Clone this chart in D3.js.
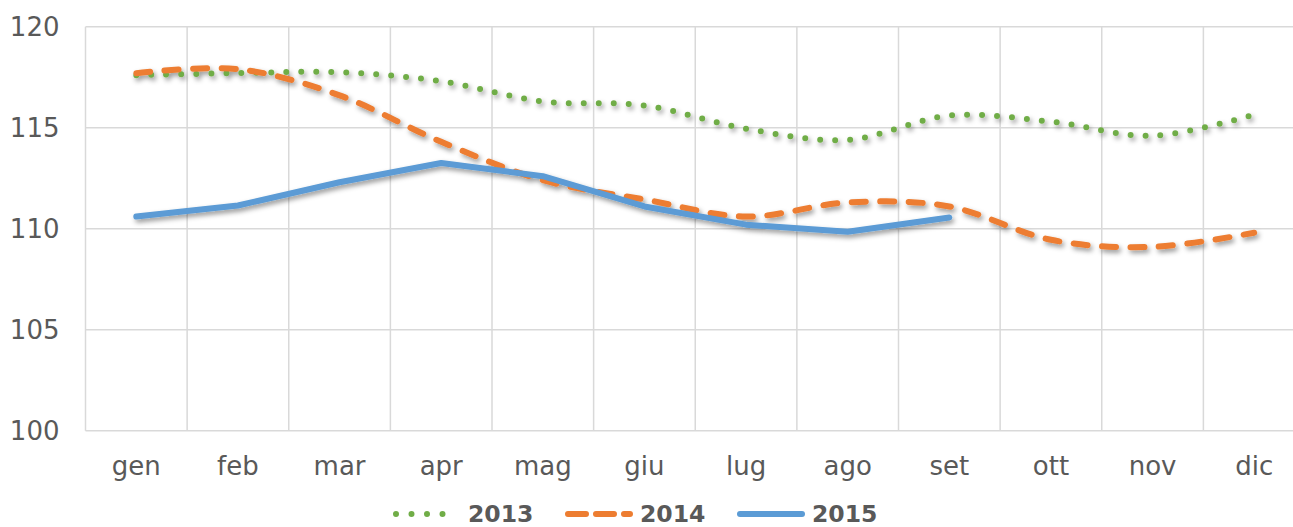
<!DOCTYPE html>
<html>
<head>
<meta charset="utf-8">
<script src="https://cdn.jsdelivr.net/npm/d3@7/dist/d3.min.js"></script>
<style>
  html, body { margin: 0; padding: 0; background: #fff; }
  svg { display: block; font-family: "DejaVu Sans", Verdana, sans-serif; }
</style>
</head>
<body>
<script>
const months = ["gen", "feb", "mar", "apr", "mag", "giu", "lug", "ago", "set", "ott", "nov", "dic"];
const s2013 = [117.6, 117.7, 117.75, 117.3, 116.3, 116.1, 114.95, 114.4, 115.6, 115.3, 114.6, 115.65];
const s2014 = [117.7, 117.9, 116.6, 114.3, 112.4, 111.45, 110.6, 111.3, 111.1, 109.45, 109.1, 109.8];
const s2015 = [110.6, 111.15, 112.3, 113.25, 112.6, 111.1, 110.2, 109.85, 110.55];
const yTicks = [100, 105, 110, 115, 120];
const seriesNames = ["2013", "2014", "2015"];

(function () {
const W = 1293, H = 527;
const pLeft = 85.5, pRight = 1305, pTop = 26.7, pBottom = 430.7;

const svg = d3.select("body").append("svg").attr("width", W).attr("height", H);

const defs = svg.append("defs");
const f = defs.append("filter").attr("id", "shadow")
  .attr("x", "-5%").attr("y", "-20%").attr("width", "110%").attr("height", "140%");
f.append("feDropShadow").attr("dx", 2).attr("dy", 3).attr("stdDeviation", 2.5)
  .attr("flood-color", "#000").attr("flood-opacity", 0.4);

const x = d3.scaleBand().domain(months).range([pLeft, pRight]).padding(0);
const y = d3.scaleLinear().domain([100, 120]).range([pBottom, pTop]);
const cx = m => x(m) + x.bandwidth() / 2;

const grid = "#d9d9d9";
svg.append("g").selectAll("line").data(yTicks).join("line")
  .attr("x1", pLeft).attr("x2", pRight)
  .attr("y1", d => y(d)).attr("y2", d => y(d))
  .attr("stroke", grid).attr("stroke-width", 1.5);
svg.append("g").selectAll("line").data(months).join("line")
  .attr("x1", d => x(d)).attr("x2", d => x(d))
  .attr("y1", pTop).attr("y2", pBottom)
  .attr("stroke", grid).attr("stroke-width", 1.5);

const yAxis = svg.append("g").attr("transform", `translate(${pLeft},0)`)
  .call(d3.axisLeft(y).tickValues(yTicks).tickSize(0).tickPadding(26));
yAxis.select(".domain").remove();
yAxis.selectAll("text").attr("fill", "#595959").style("font-size", "26px")
  .style("font-family", "DejaVu Sans, Verdana, sans-serif");

const xAxis = svg.append("g").attr("transform", `translate(0,${pBottom})`)
  .call(d3.axisBottom(x).tickSize(0).tickPadding(26));
xAxis.select(".domain").remove();
xAxis.selectAll("text").attr("fill", "#595959").style("font-size", "26px")
  .style("font-family", "DejaVu Sans, Verdana, sans-serif");

const styles = {
  "2013": { color: "#70AD47", width: 6, dash: "0 15", cap: "round", curve: d3.curveCardinal.tension(0) },
  "2014": { color: "#ED7D31", width: 6, dash: "14 14.5", cap: "round", curve: d3.curveCardinal.tension(0) },
  "2015": { color: "#5B9BD5", width: 6, dash: null, cap: "round", curve: d3.curveLinear }
};
const seriesData = { "2013": s2013, "2014": s2014, "2015": s2015 };

const plot = svg.append("g").attr("filter", "url(#shadow)");
seriesNames.forEach(name => {
  const st = styles[name];
  const vals = seriesData[name];
  const line = d3.line().x((d, i) => cx(months[i])).y(d => y(d)).curve(st.curve);
  plot.append("path")
    .attr("d", line(vals))
    .attr("fill", "none")
    .attr("stroke", st.color)
    .attr("stroke-width", st.width)
    .attr("stroke-linecap", st.cap)
    .attr("stroke-linejoin", "round")
    .attr("stroke-dasharray", st.dash);
});

const legendX = [393, 565, 737];
const legendY = 514;
const leg = svg.append("g");
seriesNames.forEach((name, i) => {
  const st = styles[name];
  const g = leg.append("g").attr("transform", `translate(${legendX[i]},${legendY})`);
  g.append("line").attr("x1", 3).attr("x2", 65).attr("y1", 0).attr("y2", 0)
    .attr("stroke", st.color).attr("stroke-width", st.width)
    .attr("stroke-linecap", st.cap)
    .attr("stroke-dasharray", name === "2014" ? "18 10" : (name === "2013" ? "0 15.5" : null));
  g.append("text").attr("x", 75).attr("y", 0).attr("dy", "0.36em")
    .attr("fill", "#595959").style("font-size", "23.5px").style("font-weight", "bold")
    .text(name);
});
})();
</script>
</body>
</html>
